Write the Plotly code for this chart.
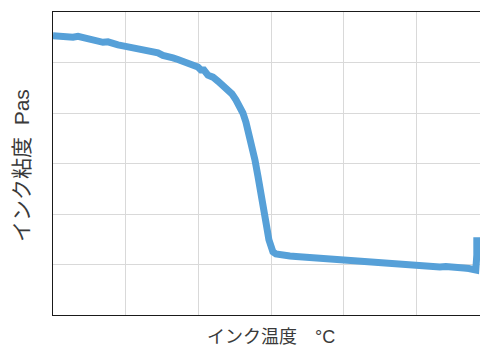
import plotly.graph_objects as go

# Temperature (arbitrary grid units, 6 divisions) and viscosity (arbitrary units, 6 divisions)
temperature = [0.000, 0.069, 0.138, 0.206, 0.275, 0.344, 0.413, 0.481, 0.550, 0.619,
               0.688, 0.757, 0.825, 0.894, 0.963, 1.032, 1.100, 1.169, 1.238, 1.307,
               1.376, 1.444, 1.513, 1.582, 1.651, 1.719, 1.788, 1.857, 1.926, 1.994,
               2.036, 2.077, 2.132, 2.201, 2.270, 2.338, 2.407, 2.462, 2.517, 2.572,
               2.613, 2.655, 2.696, 2.737, 2.779, 2.820, 2.861, 2.889, 2.916, 2.944,
               2.971, 2.999, 3.026, 3.067, 3.122, 3.191, 3.260, 3.343, 3.425, 3.508,
               3.590, 3.673, 3.755, 3.838, 3.920, 4.003, 4.085, 4.168, 4.250, 4.333,
               4.415, 4.498, 4.580, 4.663, 4.746, 4.828, 4.911, 4.993, 5.076, 5.158,
               5.241, 5.323, 5.406, 5.488, 5.571, 5.653, 5.722, 5.777, 5.818, 5.832,
               5.832]
viscosity = [5.53, 5.52, 5.54, 5.51, 5.50, 5.52, 5.49, 5.47, 5.45, 5.43,
             5.40, 5.41, 5.37, 5.35, 5.33, 5.31, 5.30, 5.27, 5.26, 5.23,
             5.20, 5.19, 5.14, 5.13, 5.09, 5.06, 5.03, 4.99, 4.95, 4.91,
             4.85, 4.85, 4.75, 4.71, 4.63, 4.55, 4.48, 4.38, 4.26, 4.12,
             4.00, 3.82, 3.60, 3.35, 3.07, 2.75, 2.46, 2.26, 1.98, 1.72,
             1.49, 1.33, 1.25, 1.21, 1.19, 1.18, 1.17, 1.16, 1.15, 1.14,
             1.14, 1.12, 1.11, 1.11, 1.09, 1.09, 1.08, 1.07, 1.05, 1.04,
             1.03, 1.03, 1.02, 1.01, 1.00, 0.99, 0.99, 0.98, 0.96, 0.97,
             0.96, 0.95, 0.96, 0.94, 0.95, 0.93, 0.92, 0.90, 0.89, 1.19,
             1.54]

x_title = "インク温度　°C"
y_title = "インク粘度  Pas"

font_family = "Liberation Sans, Noto Sans CJK JP, sans-serif"
text_color = "#3a3a3a"
grid_color = "#d9d9d9"

fig = go.Figure()
fig.add_trace(go.Scatter(
    x=temperature, y=viscosity, mode="lines",
    line=dict(color="#56a0d8", width=7),
    hoverinfo="skip", showlegend=False,
))

fig.update_layout(
    width=480, height=338,
    margin=dict(l=45, r=0, t=4, b=31),
    paper_bgcolor="white", plot_bgcolor="white",
    font=dict(family=font_family, color=text_color, size=18),
    xaxis=dict(range=[0, 5.986], dtick=1, tick0=0, showgrid=True,
               gridcolor=grid_color, gridwidth=1, showticklabels=False,
               ticks="", zeroline=False, showline=True, linecolor="#1a1a1a",
               linewidth=1.3, mirror=True),
    yaxis=dict(range=[0, 6], dtick=1, tick0=0, showgrid=True,
               gridcolor=grid_color, gridwidth=1, showticklabels=False,
               ticks="", zeroline=False, showline=True, linecolor="#1a1a1a",
               linewidth=1.3, mirror=False),
    annotations=[
        dict(text=x_title, xref="paper", yref="paper", x=0.5, y=0,
             xanchor="center", yanchor="middle", yshift=-22, showarrow=False,
             font=dict(size=18, color=text_color, family=font_family)),
        dict(text=y_title, xref="paper", yref="paper", x=0, y=0.5,
             xanchor="center", yanchor="middle", xshift=-32, yshift=-2.5,
             textangle=-90, showarrow=False,
             font=dict(size=21, color=text_color, family=font_family)),
    ],
)

fig.write_html("out.html")
